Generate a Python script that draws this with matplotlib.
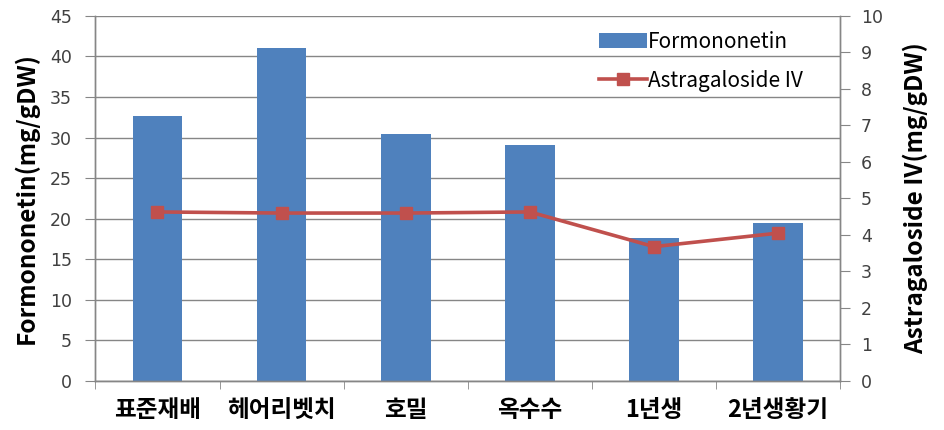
import numpy as np
import matplotlib.pyplot as plt
from matplotlib.ticker import FixedLocator

plt.rcParams['font.family'] = ['Noto Sans CJK KR', 'DejaVu Sans']

categorias = ['표준재배', '헤어리벳치', '호밀', '옥수수', '1년생', '2년생황기']
formononetin = [32.7, 41.0, 30.4, 29.1, 17.6, 19.5]
astragaloside = [4.63, 4.6, 4.6, 4.63, 3.68, 4.05]

azul = '#4F81BD'
vermelho = '#C0504D'
cinza = '#868686'

fig = plt.figure(figsize=(9.45, 4.30), dpi=100)
ax = fig.add_axes([0.101, 0.114, 0.788, 0.849])
ax2 = ax.twinx()

x = np.arange(len(categorias))
barras = ax.bar(x, formononetin, width=0.4, color=azul, zorder=2,
                label='Formononetin')
linha, = ax2.plot(x, astragaloside, color=vermelho, lw=2.6, marker='s',
                  markersize=8, label='Astragaloside IV', zorder=3)

# eixo esquerdo
ax.set_xlim(-0.5, len(categorias) - 0.5)
ax.set_ylim(0, 45)
ax.set_yticks(np.arange(0, 46, 5))
ax.yaxis.grid(True, color=cinza, lw=1.0, zorder=0)
ax.set_axisbelow(True)
ax.set_xticks(x)
ax.set_xticklabels(categorias, fontsize=17, fontweight='bold')
ax.tick_params(axis='x', length=0, pad=12)
ax.xaxis.set_minor_locator(FixedLocator(np.arange(-0.5, len(categorias), 1)))
ax.tick_params(axis='x', which='minor', length=6, color=cinza, direction='out')
ax.tick_params(axis='y', length=7, color=cinza, labelcolor='#404040', pad=10,
               labelsize=12.5, labelfontfamily='DejaVu Sans')
ax.set_ylabel('Formononetin(mg/gDW)', fontsize=17.5, fontweight='heavy',
              labelpad=8)

# eixo direito
ax2.set_ylim(0, 10)
ax2.set_yticks(np.arange(0, 11, 1))
ax2.tick_params(axis='y', length=7, color=cinza, labelcolor='#404040', pad=8,
                labelsize=12.5, labelfontfamily='DejaVu Sans')
ax2.set_ylabel('Astragaloside IV(mg/gDW)', fontsize=17.5, fontweight='heavy',
               labelpad=14)

for a in (ax, ax2):
    a.spines['top'].set_visible(False)
    for s in ('left', 'right', 'bottom'):
        a.spines[s].set_color(cinza)
        a.spines[s].set_linewidth(1.0)

ax2.legend([barras, linha], ['Formononetin', 'Astragaloside IV'],
           loc='upper right', bbox_to_anchor=(0.975, 1.01), frameon=False,
           fontsize=15, handlelength=2.3, labelspacing=0.8,
           handletextpad=0.05)

fig.savefig('out.png', dpi=100)
